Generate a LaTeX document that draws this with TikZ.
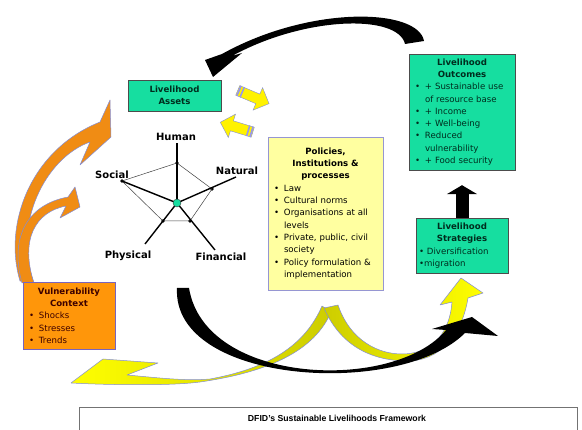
\documentclass[tikz,border=0pt]{standalone}
\usepackage{fontspec}
\setmainfont{DejaVu Sans}
\newfontfamily\framefont{Liberation Sans}
\usetikzlibrary{shapes.arrows,arrows.meta,calc}

\definecolor{slgreen}{RGB}{22,222,160}
\definecolor{greentext}{RGB}{0,45,30}
\definecolor{policyfill}{RGB}{255,255,160}
\definecolor{policyline}{RGB}{150,150,210}
\definecolor{vulnfill}{RGB}{255,150,10}
\definecolor{vulnline}{RGB}{120,100,190}
\definecolor{vulntext}{RGB}{60,0,0}
\definecolor{arrowline}{RGB}{130,140,215}
\definecolor{orangearrow}{RGB}{240,140,20}
\definecolor{olivey}{RGB}{205,205,0}
\definecolor{stripeblue}{RGB}{150,150,240}

\newcommand{\boxfont}{\fontsize{8.6}{12.3}\selectfont}
\newcommand{\itm}[1]{\par\hangindent=13pt\hangafter=1\noindent\makebox[13pt][l]{\hspace{3pt}\textbullet}#1}

\tikzstyle{greenbox} = [rectangle, draw=black!70, fill=slgreen, text=greentext, font=\boxfont, inner xsep=3pt, inner ysep=3pt]
\tikzstyle{policybox} = [rectangle, draw=policyline, fill=policyfill, font=\boxfont, inner xsep=3pt, inner ysep=5pt]
\tikzstyle{vulnbox} = [rectangle, draw=vulnline, fill=vulnfill, text=vulntext, font=\boxfont, inner xsep=3pt, inner ysep=3pt]
\tikzstyle{capital} = [font=\bfseries\fontsize{10}{12}\selectfont, inner sep=1pt]
\tikzstyle{spoke} = [line width=1.4pt]
\tikzstyle{rim} = [line width=0.5pt, black!75]
\tikzstyle{knot} = [circle, fill=black, inner sep=0pt, minimum size=3.6pt]
\tikzstyle{hubdot} = [circle, draw=black!80, fill=slgreen, inner sep=0pt, minimum size=8pt]
\tikzstyle{blockarrow} = [single arrow, draw=arrowline, fill=yellow, inner sep=5pt, single arrow head extend=7pt, minimum height=34pt]
\tikzstyle{tailband} = [rectangle, fill=stripeblue, inner sep=0pt, minimum width=1.6pt, minimum height=11pt]
\tikzstyle{swoosh} = [draw=arrowline, line width=0.5pt, line join=round]
\tikzstyle{uparrow} = [line width=13pt, -{Triangle[width=30pt,length=9pt]}, shorten >=15pt]

\begin{document}
\begin{tikzpicture}[x=1pt, y=-1pt]
    \useasboundingbox (0,0) rectangle (582,430);

    % vulnerability arrows
    \path[swoosh, fill=orangearrow] (20,281) .. controls (3,225) and (30,150) .. (100,122) -- (110,100) -- (111,137) -- (80,165) -- (90,142) .. controls (45,158) and (12,225) .. (34,283) -- cycle;
    \path[swoosh, fill=orangearrow] (22,283) .. controls (10,240) and (25,205) .. (68,197) -- (75,187) -- (80,207) -- (60,218) -- (66,206) .. controls (35,212) and (20,240) .. (34,283) -- cycle;

    % policies feedback
    \path[swoosh, left color=yellow, right color=olivey] (322,306) .. controls (305,345) and (270,368) .. (210,379) .. controls (185,381) and (160,378) .. (127,375) -- (158,363) -- (103,359) -- (71,383) .. controls (110,385) and (170,386) .. (200,382) .. controls (270,372) and (315,350) .. (331,312) -- cycle;
    \path[swoosh, left color=olivey, right color=yellow] (324,308) .. controls (340,345) and (370,360) .. (405,361) .. controls (440,362) and (462,335) .. (468,298) -- (483,293) -- (461,278) -- (440,305) -- (452,302) .. controls (450,330) and (435,352) .. (405,354) .. controls (378,355) and (350,340) .. (338,305) -- cycle;

    % big loops
    \fill (177,288) .. controls (172,385) and (400,398) .. (465,333) -- (498,336) -- (472,317) -- (432,329) -- (446,330) .. controls (395,392) and (205,386) .. (189,288) -- cycle;
    \fill (424,41) .. controls (418,8) and (310,5) .. (222,54) -- (205,60) -- (213,77) -- (242,53) -- (232,56) .. controls (305,16) and (398,14) .. (405,44) -- cycle;

    % boxes
    \node (assets) [greenbox, minimum width=93pt, minimum height=31pt, align=center, font=\boxfont\bfseries] at (174.5,95.5) {Livelihood\\Assets};

    \node (outc) [greenbox, minimum width=106pt, minimum height=116pt, text width=100pt] at (462,112) {\centering\textbf{Livelihood\\Outcomes}\par\raggedright
        \itm{+ Sustainable use of resource base}\itm{+ Income}\itm{+ Well-being}\itm{Reduced vulnerability}\itm{+ Food security}};

    \node (strat) [greenbox, minimum width=92pt, minimum height=55pt, text width=86pt] at (462,245.5) {\centering\textbf{Livelihood\\Strategies}\par\raggedright
        \textbullet\ Diversification\\\textbullet migration};

    \node (policy) [policybox, minimum width=115pt, minimum height=153pt, text width=109pt] at (325.5,213.5) {\centering\textbf{Policies,\\Institutions \&\\processes}\par\raggedright
        \itm{Law}\itm{Cultural norms}\itm{Organisations at all levels}\itm{Private, public, civil society}\itm{Policy formulation \& implementation}\par\vspace{10pt}};

    \node (vuln) [vulnbox, minimum width=92pt, minimum height=67pt, text width=86pt] at (69,315.5) {\centering\textbf{Vulnerability\\Context}\par\raggedright
        \itm{Shocks}\itm{Stresses}\itm{Trends}};

    \draw [uparrow] (strat.north) -- (outc.south);

    % assets <-> policies
    \node (toright) [blockarrow, rotate=-23] at (251,96) {};
    \node (toleft) [blockarrow, rotate=163] at (239,128) {};
    \node [tailband, rotate=-23] at ($(toright.tail)!1.5pt!(toright.tip)$) {};
    \node [tailband, rotate=-23] at ($(toright.tail)!5pt!(toright.tip)$) {};
    \node [tailband, rotate=163] at ($(toleft.tail)!1.5pt!(toleft.tip)$) {};
    \node [tailband, rotate=163] at ($(toleft.tail)!5pt!(toleft.tip)$) {};

    % asset pentagon
    \coordinate (mid) at (177,203);
    \coordinate (humanend) at (177,143);
    \coordinate (naturalend) at (236,177);
    \coordinate (financialend) at (215,250);
    \coordinate (physicalend) at (145,244);
    \coordinate (socialend) at (122,181);

    \node (hdot) [knot] at (177,163) {};
    \node (ndot) [knot] at (212,189) {};
    \node (fdot) [knot] at (190,221) {};
    \node (pdot) [knot] at (163,221) {};
    \node (sdot) [knot] at (socialend) {};
    \draw [rim] (sdot.center) -- (hdot.center) -- (ndot.center) -- (fdot.center) -- (pdot.center) -- cycle;
    \foreach \e in {humanend,naturalend,financialend,physicalend,socialend}
        \draw [spoke] (mid) -- (\e);
    \node (hub) [hubdot] at (mid) {};

    \node (human) [capital] at (176,137) {Human};
    \node (natural) [capital] at (237,171) {Natural};
    \node (financial) [capital] at (221,257) {Financial};
    \node (physical) [capital] at (128,256) {Physical};
    \node (social) [capital] at (112,175) {Social};

    % caption frame
    \node (frame) [draw=black!55, minimum width=498pt, minimum height=40pt] at (328,427) {};
    \node (caption) [font=\framefont\bfseries\fontsize{8.7}{10}\selectfont] at (337,418) {DFID’s Sustainable Livelihoods Framework};
\end{tikzpicture}
\end{document}
